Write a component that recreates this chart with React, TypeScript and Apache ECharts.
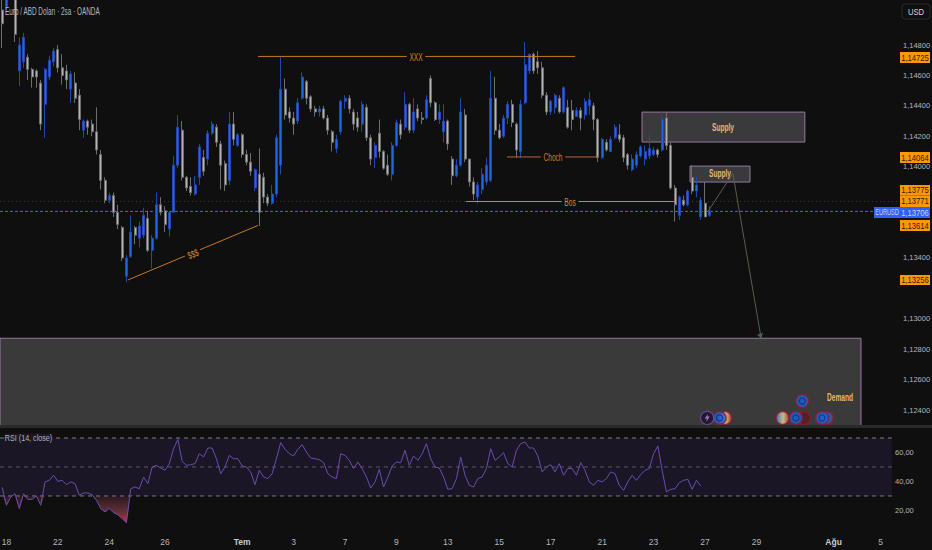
import React, { useEffect, useRef } from "react";
import * as echarts from "echarts";

// OHLC values in pips (price x 10000), one row per bar: open, close, high, low
const juneCandlesA = [
  [11503,11494,11510,11478],[11505,11510,11510,11503],[11515,11512,11518,11510],[11510,11487,11512,11482],
  [11463,11480,11485,11453],[11469,11485,11488,11465],[11472,11464,11474,11457],[11464,11459,11465,11452],
  [11463,11459,11464,11452],[11455,11428,11457,11424],[11441,11464,11465,11419],[11459,11470,11473,11457],
  [11469,11476,11478,11466],[11477,11465,11480,11462],[11465,11460,11474,11454],[11463,11457,11467,11451],
  [11451,11461,11463,11442],[11455,11445,11462,11442],[11447,11431,11451,11424],[11424,11430,11431,11419],
  [11430,11426,11431,11421],[11428,11423,11431,11420],[11423,11411,11439,11408],[11408,11391,11411,11385],
  [11391,11378,11393,11376],[11378,11381,11383,11376],[11381,11370,11383,11367],[11370,11362,11375,11359],
  [11360,11340,11361,11338],[11328,11340,11342,11324],[11341,11357,11368,11340],[11360,11355,11361,11349],
  [11353,11361,11364,11347],[11355,11368,11373,11353],[11366,11345,11371,11344],[11345,11353,11355,11333],
];
const juneCandlesB = [
  [11353,11375,11383,11352],[11375,11370,11380,11368],[11371,11362,11374,11357],[11359,11370,11371,11354],
  [11370,11401,11407,11370],[11401,11426,11434,11399],[11424,11393,11430,11391],[11393,11386,11394,11384],
  [11387,11383,11393,11381],[11382,11388,11394,11381],[11393,11413,11415,11388],[11406,11397,11411,11394],
  [11405,11422,11424,11401],[11422,11428,11430,11421],[11426,11416,11428,11413],[11415,11401,11417,11385],
  [11402,11388,11404,11384],[11391,11428,11436,11388],[11428,11418,11436,11414],[11414,11421,11422,11413],
  [11421,11408,11422,11406],[11408,11403,11411,11401],[11403,11397,11409,11394],[11386,11398,11399,11384],
  [11395,11370,11412,11361],[11393,11380,11396,11376],[11380,11376,11382,11374],[11376,11382,11388,11375],
  [11382,11419,11421,11380],[11401,11451,11472,11395],[11451,11434,11458,11431],[11436,11432,11439,11429],
  [11432,11428,11436,11421],[11430,11442,11445,11428],
];
const julyCandlesA = [
  [11445,11459,11462,11444],[11456,11445,11457,11441],[11446,11438,11447,11436],[11438,11436,11440,11433],
  [11436,11438,11440,11433],[11438,11432,11440,11431],[11432,11424,11434,11421],[11423,11416,11424,11410],
  [11412,11418,11421,11409],[11423,11443,11444,11421],[11443,11445,11447,11438],[11445,11438,11447,11435],
  [11436,11428,11438,11424],[11432,11426,11436,11423],[11428,11441,11443,11423],[11439,11419,11441,11417],
  [11419,11405,11421,11401],[11406,11414,11416,11399],[11422,11410,11431,11406],[11410,11399,11411,11398],
  [11401,11395,11408,11394],[11395,11414,11416,11391],[11414,11429,11431,11413],[11428,11421,11431,11418],
  [11426,11441,11449,11424],[11441,11424,11442,11422],[11424,11436,11445,11422],[11438,11432,11441,11430],
  [11432,11431,11436,11428],[11432,11444,11447,11431],[11458,11442,11460,11439],[11442,11431,11443,11430],
  [11431,11436,11441,11428],[11423,11430,11441,11416],[11430,11415,11431,11411],[11405,11394,11407,11388],
  [11394,11401,11405,11393],[11401,11436,11445,11400],[11434,11405,11438,11403],[11405,11390,11405,11387],
  [11390,11382,11393,11378],[11380,11388,11390,11376],
];
const julyCandlesB = [
  [11385,11395,11399,11382],[11390,11401,11406,11388],[11391,11445,11463,11390],[11445,11424,11459,11421],
  [11424,11419,11428,11418],[11420,11432,11434,11419],[11432,11441,11443,11428],[11441,11429,11444,11426],
  [11428,11411,11429,11406],[11410,11441,11444,11406],[11442,11467,11482,11441],[11463,11474,11474,11461],
  [11474,11463,11475,11461],[11469,11465,11476,11461],[11465,11447,11469,11445],[11447,11436,11449,11434],
  [11436,11443,11444,11434],[11439,11447,11448,11435],[11445,11436,11447,11435],[11436,11452,11453,11435],
  [11439,11426,11444,11425],[11437,11431,11444,11424],[11433,11437,11439,11433],[11437,11432,11439,11424],
  [11434,11443,11445,11431],[11440,11444,11449,11434],[11440,11431,11442,11424],[11431,11406,11432,11403],
  [11406,11418,11419,11405],[11416,11411,11418,11410],[11410,11418,11420,11410],[11419,11426,11428,11418],
  [11421,11418,11428,11416],[11419,11406,11421,11403],[11408,11401,11409,11398],[11398,11405,11408,11397],
  [11401,11408,11410,11399],[11407,11413,11414,11406],[11405,11410,11414,11401],[11407,11412,11421,11405],
  [11408,11411,11413,11407],[11411,11408,11412,11406],[11411,11431,11436,11410],[11432,11414,11436,11411],
  [11414,11386,11416,11385],[11386,11375,11388,11364],[11368,11380,11381,11365],[11378,11375,11381,11374],
  [11375,11384,11385,11374],[11393,11384,11401,11382],[11384,11388,11393,11380],[11367,11378,11380,11365],
  [11376,11367,11390,11367],[11368,11371,11374,11367],
];

const rsiJune = [
  36,23.6,29.3,31.6,21.3,31.6,27.7,27.7,30,23.6,39.7,40.8,44.3,40.1,40.8,37.8,39.7,38.5,30.5,32.1,32.1,30.9,27,21.3,
  19,21.3,18.5,17.1,14.4,11.6,35,36.2,35,43.1,38.5,50,51.1,49.3,47.7,52.3,62.6,69,53.9,51.1,51.6,52.3,59.2,56.9,63.1,
  63.1,55.7,45.4,50,58,55.7,55.7,50.7,50,46.6,37.8,47.7,43.1,42,45.4,55.7,66.8,62.2,59.2,57.6,62.2,
];
const rsiJuly = [
  65.4,60.3,56.2,55.7,55.1,53,45.4,43.1,42,59.2,58,54.6,48.9,53.4,48.9,43.1,35.5,39.7,48.4,36.2,43.1,50.7,53.4,
  53,61.5,51.1,57.6,54.6,59.2,66.1,55.7,50,49.3,43.1,34.6,35,42,56.9,44.3,37.4,36.2,42,43.1,48.9,62.6,54.6,56.9,59.9,
  52.3,50,61.5,66.1,67.2,63.1,63.1,57.6,46.6,50,51.6,46.6,52.3,44.3,48.9,48.9,44.3,53,47.7,39.7,37.4,40.8,39.7,42,
  46.6,45.4,37.4,33.9,39.7,44.3,40.8,44.7,47.7,48.9,59.2,64.5,47.7,32.8,34.6,35,39.2,40.8,41.5,34.6,40.8,36.9,
];

const barCount = 210;
const tickBars = [1, 13, 25, 38, 56, 68, 80, 92, 104, 116, 128, 140, 152, 164, 176, 194, 205];
const tickLabels = ["18","22","24","26","Tem","3","7","9","13","15","17","21","23","27","29","Ağu","5"];
const monthLabels = ["Tem", "Ağu"];

const priceTicks = [1.124,1.126,1.128,1.13,1.134,1.14,1.142,1.144,1.146,1.148];
const rsiTicks = [20, 40, 60];

const priceTags = ["1,14725","1,14064","1,13775","1,13771","1,13706","1,13614","1,13256"];
const lastPrice = 1.13706;
const prevClose = 1.13771;

const BG = "#0f0f0f";
const FONT = "'Liberation Sans', Roboto, sans-serif";
const ORANGE = "#c47a1c";
const BOX_BORDER = "#97789f";

function App() {
  const ref = useRef<HTMLDivElement | null>(null);
  useEffect(() => {
    const chart = echarts.init(ref.current!, undefined, { renderer: "svg" });
    const candles = [...juneCandlesA, ...juneCandlesB, ...julyCandlesA, ...julyCandlesB].map(
      ([o, c, h, l]) => [o / 10000, c / 10000, l / 10000, h / 10000]
    );
    const rsi = [...rsiJune, ...rsiJuly];
    const categories = Array.from({ length: barCount }, (_, i) => {
      const k = tickBars.indexOf(i);
      return k >= 0 ? tickLabels[k] : "";
    });

    // An annotation line, as its own series on the hidden bar-index axis.
    const path = (points: number[][], color: string, z = 4, type: any = "solid", xAxisIndex = 1, yAxisIndex = 0) => ({
      type: "line", xAxisIndex, yAxisIndex, z, data: points, symbol: "none", silent: true,
      lineStyle: { color, width: 1, type },
    });
    const note = (x: number, y: number, text: string, color: string, extra: any = {}, rot = 0) => ({
      type: "text", z: 45, x, y, rotation: rot, scaleX: 0.66,
      style: { text, fill: color, fontFamily: FONT, fontSize: 10, align: "center", verticalAlign: "middle", ...extra },
    });

    const blueEvent = { color: "#1e63d6", borderColor: "#8f1d2c", borderWidth: 1.5 };
    const flagEvent = {
      color: new echarts.graphic.LinearGradient(0, 0, 1, 0, [
        { offset: 0, color: "#3f7fd0" }, { offset: 0.55, color: "#e8d9a0" }, { offset: 1, color: "#c8452c" },
      ]),
      borderColor: "#8f1d2c", borderWidth: 1.5,
    };
    const stripeEvent = { color: "#5a1a24", borderColor: "#8f1d2c", borderWidth: 1.5 };
    const boltEvent = { color: "#1c1030", borderColor: "#7a4fa0", borderWidth: 1.2 };

    const eventOuter = [
      { value: [168.7, 1.12348], itemStyle: flagEvent },
      { value: [167.4, 1.12348], itemStyle: blueEvent },
      { value: [164.5, 1.12348], itemStyle: boltEvent },
      { value: [182.1, 1.12348], itemStyle: flagEvent },
      { value: [187.1, 1.12348], itemStyle: stripeEvent },
      { value: [185.2, 1.12348], itemStyle: blueEvent },
      { value: [192.4, 1.12348], itemStyle: blueEvent },
      { value: [191.3, 1.12348], itemStyle: blueEvent },
      { value: [186.7, 1.12459], itemStyle: blueEvent },
    ];
    const eventInner = [[167.4, 1.12348], [185.2, 1.12348], [191.3, 1.12348], [186.7, 1.12459]];

    const tagTops = [52, 152, 185, 195.5, 207, 220, 275];
    const tagHeights = [11, 11, 10.5, 11.5, 11, 11, 10];
    const tagGraphics: any[] = priceTags.map((t, i) => ({
      type: "group",
      z: 50,
      children: [
        { type: "rect", shape: { x: 900, y: tagTops[i], width: 30, height: tagHeights[i] },
          style: { fill: i === 4 ? "#2962ff" : "#ff9800" } },
        { type: "text", x: 915, y: tagTops[i] + tagHeights[i] / 2, scaleX: 0.85,
          style: { text: t, fill: i === 4 ? "#d1d4dc" : "#2a1d05", fontFamily: FONT, fontSize: 9, align: "center", verticalAlign: "middle" } },
      ],
    }));

    chart.setOption({
      animation: false,
      backgroundColor: BG,
      grid: [
        { left: 0, width: 900, top: 0, height: 427, containLabel: false, outerBoundsMode: "none" },
        { left: 0, width: 900, top: 429, height: 98, containLabel: false, outerBoundsMode: "none" },
      ],
      xAxis: [
        { type: "category", gridIndex: 0, data: categories, show: false, boundaryGap: true },
        { type: "value", gridIndex: 0, min: -0.5, max: barCount - 0.5, show: false },
        {
          type: "category", gridIndex: 1, data: categories, boundaryGap: true,
          axisLine: { show: false }, axisTick: { show: false },
          axisLabel: {
            interval: 0, margin: 10, color: "#b2b5be", fontFamily: FONT, fontSize: 8.5,
            formatter: (v: string) => (monthLabels.includes(v) ? `{m|${v}}` : v),
            rich: { m: { fontWeight: "bold", color: "#c8cad0", fontFamily: FONT, fontSize: 8.5 } },
          },
        },
        { type: "value", gridIndex: 1, min: -0.5, max: barCount - 0.5, show: false },
      ],
      yAxis: [
        {
          type: "value", gridIndex: 0, position: "right", min: 1.122885, max: 1.15096,
          splitLine: { show: false }, axisLine: { show: false }, axisTick: { show: false },
          axisLabel: {
            customValues: priceTicks, margin: 3, color: "#b2b5be", fontFamily: FONT, fontSize: 7.5,
            formatter: (v: number) => v.toFixed(5).replace(".", ","),
          },
        },
        {
          type: "value", gridIndex: 1, position: "right", min: 8.6, max: 76.2,
          splitLine: { show: false }, axisLine: { show: false }, axisTick: { show: false },
          axisLabel: {
            customValues: rsiTicks, margin: -5, color: "#b2b5be", fontFamily: FONT, fontSize: 7.5,
            formatter: (v: number) => v.toFixed(2).replace(".", ","),
          },
        },
      ],
      series: [
        {
          type: "line", xAxisIndex: 1, yAxisIndex: 0, data: [], silent: true, z: 1,
          markArea: {
            silent: true, z: 1,
            data: [
              [
                { coord: [149.3, 1.14359], itemStyle: { color: "#3a3a3c", borderColor: BOX_BORDER, borderWidth: 1 } },
                { coord: [187.3, 1.14162] },
              ],
              [
                { coord: [160.5, 1.14004], itemStyle: { color: "#3a3a3c", borderColor: BOX_BORDER, borderWidth: 1 } },
                { coord: [174.5, 1.13899] },
              ],
              [
                { coord: [-0.5, 1.12872], itemStyle: { color: "#3a3a3a", borderColor: BOX_BORDER, borderWidth: 1 } },
                { coord: [200.4, 1.122885] },
              ],
            ],
          },
        },
        path([[-0.5, prevClose], [209.5, prevClose]], "#3a3a36", 2, [1, 3]),
        path([[-0.5, lastPrice], [203.4, lastPrice]], "#2f6bff", 2, [3, 2]),
        {
          type: "candlestick", xAxisIndex: 0, yAxisIndex: 0, data: candles, barWidth: 2.5, z: 3,
          itemStyle: { color: "#2563eb", color0: "#b4b4b4", borderColor: "#1f48b0", borderColor0: "#6e6e6e", borderWidth: 1 },
        },
        path([[59.7, 1.14725], [133.7, 1.14725]], ORANGE),
        path([[29.4, 1.13256], [59.7, 1.13614]], ORANGE),
        path([[117.8, 1.14064], [139, 1.14064]], "#b8663a"),
        path([[108.2, 1.13771], [156.8, 1.13771]], "#d98a1e"),
        path([[164.7, 1.13706], [170.5, 1.13956], [177.1, 1.12872]], "#56604f"),
        {
          type: "line", xAxisIndex: 1, yAxisIndex: 0, data: [], silent: true, z: 4,
          markLine: {
            silent: true, z: 4, symbol: ["none", "arrow"], symbolSize: 5, label: { show: false },
            lineStyle: { color: "#56604f", width: 1, type: "solid" },
            data: [[{ coord: [176.8, 1.12905] }, { coord: [177.1, 1.12872] }]],
          },
        },
        {
          type: "scatter", xAxisIndex: 1, yAxisIndex: 0, z: 6, symbol: "circle", symbolSize: 13, silent: true,
          data: eventOuter,
        },
        {
          type: "scatter", xAxisIndex: 1, yAxisIndex: 0, z: 7, symbol: "circle", symbolSize: 6, silent: true,
          itemStyle: { color: "transparent", borderColor: "#0c2f78", borderWidth: 1.2 },
          data: eventInner,
        },
        {
          type: "scatter", xAxisIndex: 1, yAxisIndex: 0, z: 7, silent: true,
          symbol: "path://M6 0 L0 7 L4 7 L3 12 L9 4 L5 4 Z", symbolSize: [5, 8],
          itemStyle: { color: "#b89ad8" },
          data: [[164.5, 1.12348]],
        },
        {
          type: "line", xAxisIndex: 3, yAxisIndex: 1, data: [], silent: true, z: 1,
          markArea: {
            silent: true, z: 1,
            data: [[{ coord: [-0.5, 70], itemStyle: { color: "#1a1625" } }, { coord: [207.6, 30] }]],
          },
        },
        path([[-0.5, 70], [207.6, 70]], "#7c7c84", 2, [4, 4], 3, 1),
        path([[-0.5, 50], [207.6, 50]], "#5c5862", 2, [4, 4], 3, 1),
        path([[-0.5, 30], [207.6, 30]], "#7c7c84", 2, [4, 4], 3, 1),
        {
          type: "line", xAxisIndex: 2, yAxisIndex: 1, z: 2, symbol: "none", silent: true,
          data: rsi.map((v) => Math.min(v, 30)),
          lineStyle: { width: 0, opacity: 0 },
          areaStyle: {
            origin: 30, opacity: 1,
            color: new echarts.graphic.LinearGradient(0, 0, 0, 1, [
              { offset: 0, color: "#2a181c" }, { offset: 0.6, color: "#63303a" }, { offset: 1, color: "#d42a40" },
            ]),
          },
        },
        {
          type: "line", xAxisIndex: 2, yAxisIndex: 1, z: 3, symbol: "none", silent: true, data: rsi,
          lineStyle: { color: "#6a4db0", width: 1 },
        },
      ],
      graphic: [
        { type: "rect", z: 40, shape: { x: 0, y: 425, width: 932, height: 3 }, style: { fill: "#2a2a2a" } },
        note(416, 57.5, "XXX", "#d98a1e", { backgroundColor: BG, padding: [0, 4] }),
        note(193, 254, "$$$", "#d98a1e", { backgroundColor: BG, padding: [0, 4] }, 0.39),
        note(553, 157.5, "Choch", "#d07a2a", { backgroundColor: BG, padding: [0, 4] }),
        note(570, 202, "Bos", "#d98a1e", { backgroundColor: BG, padding: [0, 4] }),
        note(723, 127, "Supply", "#e8b765", { fontWeight: "bold" }),
        note(720, 173, "Supply", "#e8b765", { fontWeight: "bold" }),
        note(840, 397, "Demand", "#e8b765", { fontWeight: "bold" }),
        { type: "text", z: 60, x: 5, y: 11, scaleX: 0.64,
          style: { text: "Euro / ABD Doları · 2sa · OANDA", fill: "#b4b7c0", fontFamily: FONT, fontSize: 10, verticalAlign: "middle" } },
        { type: "rect", z: 60, shape: { x: 902, y: 4, width: 28, height: 15, r: 3 },
          style: { fill: "transparent", stroke: "#2a2a2e", lineWidth: 1 } },
        { type: "text", z: 60, x: 916, y: 11.5, scaleX: 0.85,
          style: { text: "USD", fill: "#d1d4dc", fontFamily: FONT, fontSize: 9, align: "center", verticalAlign: "middle" } },
        ...tagGraphics,
        { type: "group", z: 50, children: [
          { type: "rect", shape: { x: 874, y: 207, width: 26, height: 11 }, style: { fill: "#2962ff" } },
          { type: "text", x: 887, y: 212.5, scaleX: 0.66,
            style: { text: "EURUSD", fill: "#d1d4dc", fontFamily: FONT, fontSize: 8.5, align: "center", verticalAlign: "middle" } },
        ] },
        { type: "text", z: 60, x: 4, y: 438, scaleX: 0.8,
          style: { text: "RSI (14, close)", fill: "#b2b5be", fontFamily: FONT, fontSize: 9, verticalAlign: "middle", backgroundColor: "#1a1625", padding: [0, 1] } },
      ],
    });
    return () => chart.dispose();
  }, []);
  return <div ref={ref} style={{ position: "absolute", left: 0, top: 0, width: 932, height: 550 }} />;
}

export default App;
